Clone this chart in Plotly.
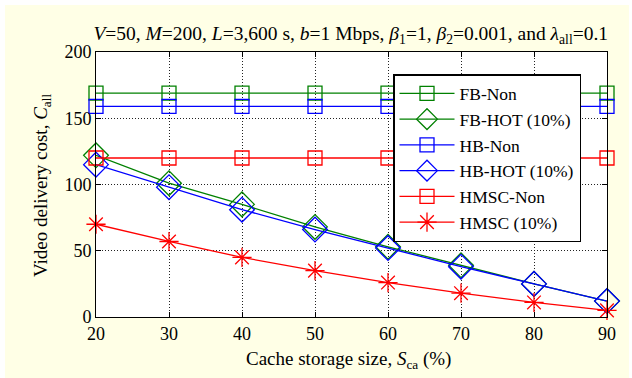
import plotly.graph_objects as go

cache_size = [20, 30, 40, 50, 60, 70, 80, 90]
fb_non = [169, 169, 169, 169, 169, 169, 169, 169]
fb_hot = [122, 101, 85, 68, 53, 39, 25, 12]
hb_non = [159, 159, 159, 159, 159, 159, 159, 159]
hb_hot = [115, 98, 81, 66, 52, 38, 25, 12]
hmsc_non = [120, 120, 120, 120, 120, 120, 120, 120]
hmsc_hot = [70, 57, 45, 35, 26, 18, 11, 5]

series = [
    ("FB-Non", fb_non, "#008000", "square-open", 14),
    ("FB-HOT (10%)", fb_hot, "#008000", "diamond-open", 19),
    ("HB-Non", hb_non, "#0000FF", "square-open", 14),
    ("HB-HOT (10%)", hb_hot, "#0000FF", "diamond-open", 19),
    ("HMSC-Non", hmsc_non, "#FF0000", "square-open", 14),
    ("HMSC (10%)", hmsc_hot, "#FF0000", "asterisk-open", 16),
]

FONT = "Liberation Serif"
L, R, T, B = 96, 25, 52, 61
PW, PH = 632 - L - R, 378 - T - B

def px_x(x):
    return (x - L) / PW

def px_y(y):
    return (378 - B - y) / PH

fig = go.Figure()
for name, vals, col, sym, sz in series:
    fig.add_trace(go.Scatter(
        x=cache_size, y=vals, name=name, mode="lines+markers",
        line=dict(color=col, width=1.3),
        marker=dict(symbol=sym, size=sz, color=col, line=dict(color=col, width=1.3)),
        cliponaxis=False,
    ))

axis_common = dict(
    showline=True, linecolor="black", linewidth=1, mirror="ticks",
    ticks="inside", ticklen=5, tickcolor="black",
    showgrid=True, gridcolor="#222222", griddash="1px,2px", gridwidth=1,
    zeroline=False, tickfont=dict(family=FONT, size=18, color="black"),
)

fig.update_layout(
    width=632, height=378,
    margin=dict(l=L, r=R, t=T, b=B),
    paper_bgcolor="#FFFFE6", plot_bgcolor="white",
    font=dict(family=FONT, size=19, color="black"),
    title=dict(
        text="<i>V</i>=50, <i>M</i>=200, <i>L</i>=3,600 s, <i>b</i>=1 Mbps, <i>β</i><sub>1</sub>=1, <i>β</i><sub>2</sub>=0.001, and <i>λ</i><sub>all</sub>=0.1",
        x=0.555, xanchor="center", y=0.913, yanchor="middle",
        font=dict(family=FONT, size=19.5, color="black"),
    ),
    xaxis=dict(range=[20, 90], tickvals=cache_size, **axis_common),
    yaxis=dict(range=[0, 200], tickvals=[0, 50, 100, 150, 200], **axis_common),
    legend=dict(
        x=px_x(393), y=px_y(74), xanchor="left", yanchor="top",
        bgcolor="white", bordercolor="black", borderwidth=1.5,
        font=dict(family=FONT, size=17.5, color="black"),
        tracegroupgap=0, itemwidth=55,
    ),
    showlegend=True,
)

fig.add_annotation(text="Cache storage size, <i>S</i><sub>ca</sub> (%)", xref="paper", yref="paper",
                   x=px_x(348), y=px_y(360), xanchor="center", yanchor="middle",
                   showarrow=False, font=dict(family=FONT, size=19))
fig.add_annotation(text="Video delivery cost, <i>C</i><sub>all</sub>", xref="paper", yref="paper",
                   x=px_x(42), y=px_y(186), xanchor="center", yanchor="middle", textangle=-90,
                   showarrow=False, font=dict(family=FONT, size=19))

for x0, y0, x1, y1 in [(0, 0, 632, 5), (0, 0, 5, 378), (629, 0, 632, 378)]:
    fig.add_shape(type="rect", xref="paper", yref="paper",
                  x0=px_x(x0), x1=px_x(x1), y0=px_y(y1), y1=px_y(y0),
                  fillcolor="white", line=dict(width=0), layer="below")

fig.write_html("out.html")
